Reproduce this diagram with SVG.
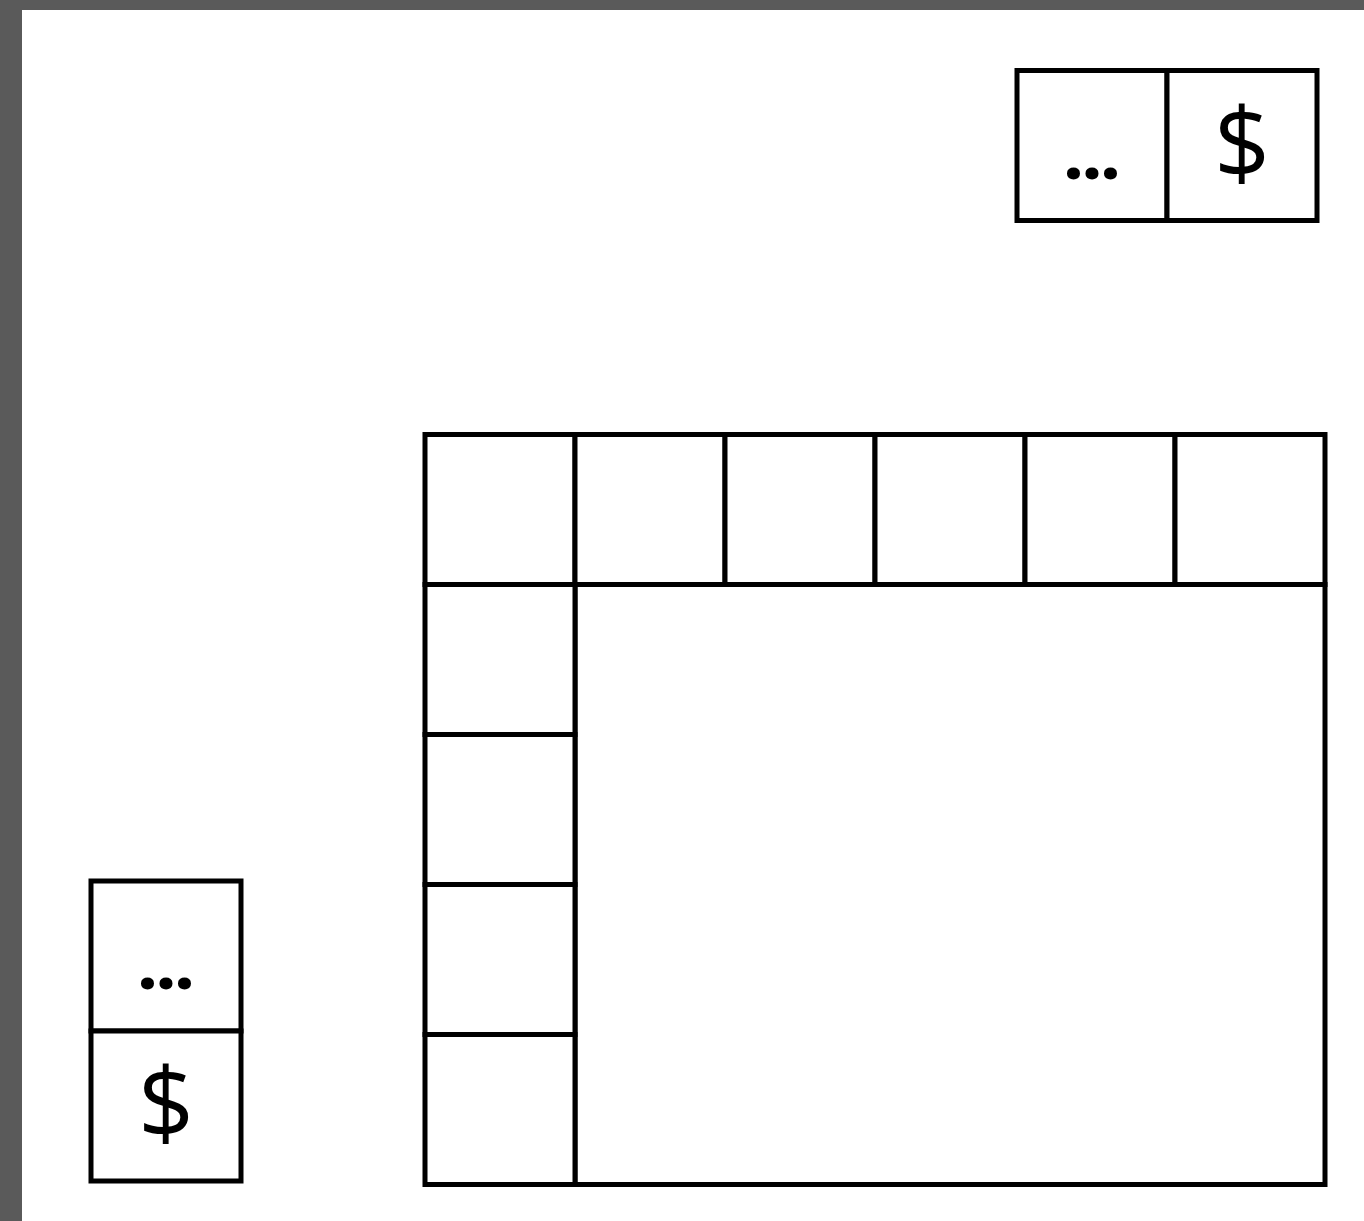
<svg xmlns="http://www.w3.org/2000/svg" width="1364" height="1221" viewBox="0 0 1364 1221">
<style>
.c{fill:#fff;stroke:#000;stroke-width:5}
.t{font-family:"Open Sans","DejaVu Sans",sans-serif;font-size:98px;text-anchor:middle;fill:#000}
.d{font-family:"Open Sans","DejaVu Sans",sans-serif;font-size:64px;font-weight:800;text-anchor:middle;fill:#000}
</style>
<rect x="0" y="0" width="1364" height="1221" fill="#5a5a5a"/>
<rect x="22" y="10" width="1342" height="1211" fill="#fff"/>
<g id="row-array">
<rect class="c" x="1017" y="70.5" width="150" height="150"/>
<rect class="c" x="1167" y="70.5" width="150" height="150"/>
<text class="d" x="1092" y="179">…</text>
<text class="t" x="1242" y="178">$</text>
</g>
<g id="col-array">
<rect class="c" x="91" y="881" width="150" height="150"/>
<rect class="c" x="91" y="1031" width="150" height="150"/>
<text class="d" x="166" y="989">…</text>
<text class="t" x="166" y="1138">$</text>
</g>
<g id="table">
<rect class="c" x="575" y="584.5" width="750" height="600"/>
<rect class="c" x="425" y="434.5" width="150" height="150"/>
<rect class="c" x="575" y="434.5" width="150" height="150"/>
<rect class="c" x="725" y="434.5" width="150" height="150"/>
<rect class="c" x="875" y="434.5" width="150" height="150"/>
<rect class="c" x="1025" y="434.5" width="150" height="150"/>
<rect class="c" x="1175" y="434.5" width="150" height="150"/>
<rect class="c" x="425" y="584.5" width="150" height="150"/>
<rect class="c" x="425" y="734.5" width="150" height="150"/>
<rect class="c" x="425" y="884.5" width="150" height="150"/>
<rect class="c" x="425" y="1034.5" width="150" height="150"/>
</g>
</svg>
